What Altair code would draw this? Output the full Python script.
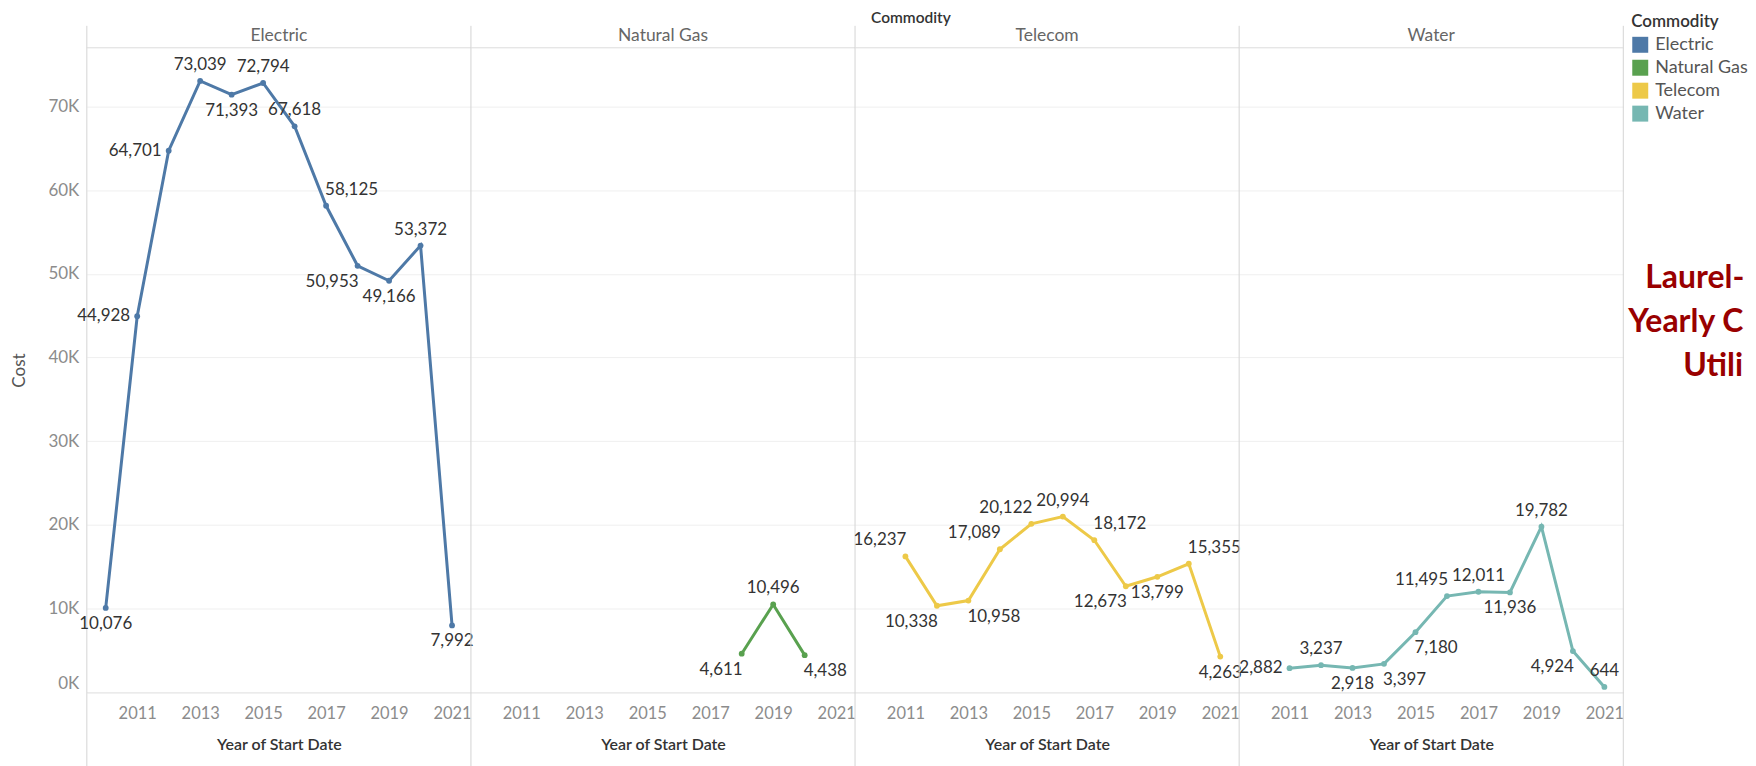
import altair as alt
import pandas as pd

commodities = ["Electric", "Natural Gas", "Telecom", "Water"]
colors = ["#4e79a7", "#59a14f", "#edc948", "#76b7b2"]

electric_years = list(range(2010, 2022))
electric_cost = [10076, 44928, 64701, 73039, 71393, 72794, 67618, 58125, 50953, 49166, 53372, 7992]
electric_label = ["b", "l", "l", "a", "b", "a", "a", "ar", "bl", "b", "a", "b"]

gas_years = [2018, 2019, 2020]
gas_cost = [4611, 10496, 4438]
gas_label = ["bl", "a", "br"]

telecom_years = list(range(2011, 2022))
telecom_cost = [16237, 10338, 10958, 17089, 20122, 20994, 18172, 12673, 13799, 15355, 4263]
telecom_label = ["al", "bl", "br", "al", "al", "a", "ar", "bl", "b", "ar", "b"]

water_years = list(range(2011, 2022))
water_cost = [2882, 3237, 2918, 3397, 7180, 11495, 12011, 11936, 19782, 4924, 644]
water_label = ["l", "a", "b", "br", "br", "al", "a", "b", "a", "bl", "a"]

year_ticks = [2011, 2013, 2015, 2017, 2019, 2021]
cost_ticks = [0, 10000, 20000, 30000, 40000, 50000, 60000, 70000]
title_lines = ["Laurel-", "Yearly C", "Utili"]

rows = []
for name, yrs, vals, pos in [
    ("Electric", electric_years, electric_cost, electric_label),
    ("Natural Gas", gas_years, gas_cost, gas_label),
    ("Telecom", telecom_years, telecom_cost, telecom_label),
    ("Water", water_years, water_cost, water_label),
]:
    for yr, v, p in zip(yrs, vals, pos):
        rows.append({"Commodity": name, "Year": yr, "Cost": v, "pos": p})
df = pd.DataFrame(rows)

W, H = 385, 646
FONT = "Lato"

x = alt.X(
    "Year:Q",
    scale=alt.Scale(domain=[2009.4, 2021.6], nice=False, zero=False),
    axis=alt.Axis(
        values=year_ticks, format="d", title="Year of Start Date",
        grid=False, ticks=False, tickSize=0, domain=True, domainColor="#d4d4d4",
        labelFontSize=16.5, labelColor="#8c8c8c", labelPadding=13, labelFont=FONT,
        titleFontSize=16, titleColor="#333333", titleFontWeight=600, titlePadding=15, titleFont=FONT,
    ),
)
y = alt.Y(
    "Cost:Q",
    scale=alt.Scale(domain=[0, 77000], nice=False),
    axis=alt.Axis(
        values=cost_ticks, labelExpr="datum.value / 1000 + 'K'", title="Cost",
        grid=True, gridColor="#efefef", ticks=False, tickSize=0, domain=False,
        labelFontSize=17, labelColor="#8c8c8c", labelPadding=8, labelFlush=True, labelFont=FONT,
        titleFontSize=17, titleColor="#555555", titleFontWeight="normal", titlePadding=19, titleFont=FONT,
    ),
)
legend = alt.Legend(
    title="Commodity", orient="none", legendX=1548, legendY=-34,
    symbolType="square", symbolSize=256, symbolStrokeWidth=0, symbolOpacity=1,
    labelFontSize=18, labelColor="#555555", labelFont=FONT, labelOffset=6,
    titleFontSize=17, titleColor="#333333", titleFontWeight=600, titleFont=FONT,
    titlePadding=5, rowPadding=5,
)
color = alt.Color("Commodity:N", scale=alt.Scale(domain=commodities, range=colors), legend=legend)

pts = alt.Chart().mark_circle(size=34, opacity=1).encode(x=x, y=y, color=color)
line = alt.Chart().mark_line(strokeWidth=3).encode(x=x, y=y, color=color)

place = {
    "a": dict(align="center", dx=0, dy=-16),
    "b": dict(align="center", dx=0, dy=16),
    "l": dict(align="right", dx=-7, dy=0),
    "al": dict(align="right", dx=1, dy=-16),
    "ar": dict(align="left", dx=-1, dy=-16),
    "bl": dict(align="right", dx=1, dy=16),
    "br": dict(align="left", dx=-1, dy=16),
}
label_layers = [
    alt.Chart()
    .transform_filter(f"datum.pos == '{k}'")
    .mark_text(baseline="middle", fontSize=17, color="#333333", font=FONT, **v)
    .encode(x=x, y=y, text=alt.Text("Cost:Q", format=","))
    for k, v in place.items()
]

sep_left = (
    alt.Chart()
    .transform_aggregate(n="count()", groupby=["Commodity"])
    .mark_rule(color="#d4d4d4", strokeWidth=1)
    .encode(x=alt.value(0), y=alt.value(-22), y2=alt.value(H + 74))
)
sep_right = (
    alt.Chart()
    .transform_filter("datum.Commodity == 'Water'")
    .transform_aggregate(n="count()", groupby=["Commodity"])
    .mark_rule(color="#d4d4d4", strokeWidth=1)
    .encode(x=alt.value(W), y=alt.value(-22), y2=alt.value(H + 74))
)
head_line = (
    alt.Chart()
    .transform_aggregate(n="count()", groupby=["Commodity"])
    .mark_rule(color="#dcdcdc", strokeWidth=1)
    .encode(x=alt.value(0), x2=alt.value(W), y=alt.value(0))
)

title_pos = [(407, 241), (390, 285), (445, 329)]
title_layers = [
    alt.Chart()
    .transform_filter("datum.Commodity == 'Water'")
    .transform_aggregate(n="count()", groupby=["Commodity"])
    .mark_text(align="left", baseline="alphabetic", fontSize=32, fontWeight="bold",
               color="#990000", font=FONT)
    .encode(x=alt.value(px), y=alt.value(py), text=alt.value(t))
    for t, (px, py) in zip(title_lines, title_pos)
]

layered = alt.layer(
    sep_left, sep_right, head_line, pts, line, *label_layers, *title_layers
).properties(width=W, height=H)

chart = (
    layered.facet(
        column=alt.Column(
            "Commodity:N",
            sort=commodities,
            title="Commodity",
            header=alt.Header(
                labelFontSize=17.5, labelColor="#666666", labelFont=FONT, labelPadding=3,
                titleFontSize=15.5, titleColor="#333333", titleFontWeight=600, titleFont=FONT,
                titlePadding=-10,
            ),
        ),
        data=df,
        spacing=0,
        bounds="flush",
    )
    .properties(padding={"left": 3, "top": 2, "right": 0, "bottom": 0})
    .configure(font=FONT)
    .configure_view(stroke=None)
)

chart.save("out.html", embed_options={"renderer": "svg", "actions": False})
